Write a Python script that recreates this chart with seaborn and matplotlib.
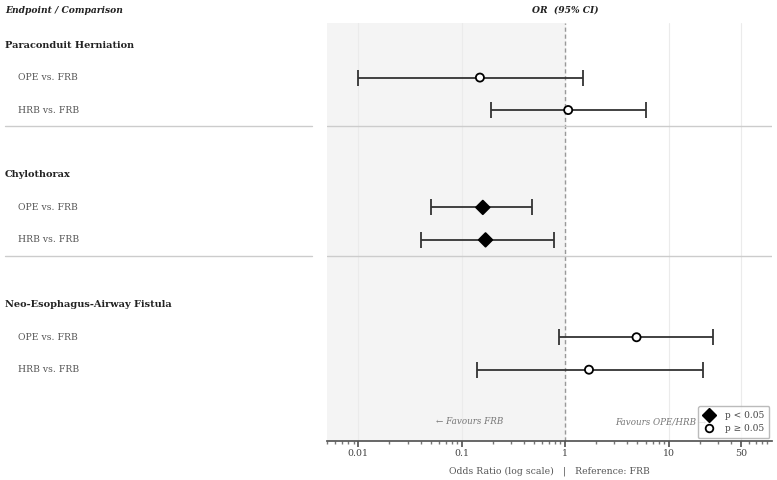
import matplotlib
matplotlib.use("Agg")
import matplotlib.pyplot as plt
from matplotlib.lines import Line2D
import seaborn as sns
import pandas as pd

endpoints = ["Paraconduit Herniation", "Chylothorax", "Neo-Esophagus-Airway Fistula"]
comparisons = ["OPE vs. FRB", "HRB vs. FRB"]
odds_ratio = [0.15, 1.07, 0.16, 0.17, 4.9, 1.7]
ci_low = [0.01, 0.19, 0.05, 0.04, 0.87, 0.14]
ci_high = [1.5, 6.1, 0.48, 0.78, 26.7, 21.4]
significant = [False, False, True, True, False, False]
tick_values = [0.01, 0.1, 1, 10, 50]
tick_labels = ["0.01", "0.1", "1", "10", "50"]

sns.set_theme(style="white")
plt.rcParams['font.family'] = ['DejaVu Serif']

rows = []
k = 0
for i, ep in enumerate(endpoints):
    for j, comp in enumerate(comparisons):
        rows.append({"endpoint": ep, "comparison": comp, "y": 4 * i + 1 + j,
                     "OR": odds_ratio[k], "lo": ci_low[k], "hi": ci_high[k],
                     "sig": "p < 0.05" if significant[k] else "p ≥ 0.05"})
        k += 1
df = pd.DataFrame(rows)

fig = plt.figure(figsize=(7.77, 4.8), dpi=100)
ax_l = fig.add_axes([0.0, 0.081, 0.41, 0.871])
ax = fig.add_axes([0.421, 0.081, 0.5726, 0.871])

ylim = (12.2, -0.68)
xlim = (0.005, 100)

# left text panel
ax_l.set_xlim(0, 1)
ax_l.set_ylim(*ylim)
ax_l.axis("off")
for i, ep in enumerate(endpoints):
    ax_l.text(0.016, 4 * i, ep, fontsize=7, fontweight="bold", color="#222222", va="center")
    if i < len(endpoints) - 1:
        ax_l.plot([0.016, 0.98], [4 * i + 2.5] * 2, color="#cccccc", lw=1)
for _, r in df.iterrows():
    ax_l.text(0.056, r["y"], r["comparison"], fontsize=6.7, color="#555555", va="center")
fig.text(0.007, 0.979, "Endpoint / Comparison", fontsize=6.6, fontweight="bold",
         fontstyle="italic", color="#222222", va="center")

# forest panel
ax.set_xscale("log")
ax.set_xlim(*xlim)
ax.set_ylim(*ylim)
ax.axvspan(xlim[0], 1, color="#f4f4f4", zorder=0)
for t in tick_values:
    if t != 1:
        ax.axvline(t, color="#ebebeb", lw=0.8, zorder=0.5)
ax.axvline(1, color="#999999", lw=1, ls=(0, (3, 2)), zorder=1)
for i in range(len(endpoints) - 1):
    ax.axhline(4 * i + 2.5, color="#cccccc", lw=1, zorder=1)

ax.errorbar(df["OR"], df["y"], xerr=[df["OR"] - df["lo"], df["hi"] - df["OR"]],
            fmt="none", ecolor="#333333", elinewidth=1.3, capsize=5.5, capthick=1.3, zorder=2)
sns.scatterplot(data=df, x="OR", y="y", style="sig", hue="sig", size="sig",
                markers={"p < 0.05": "D", "p ≥ 0.05": "o"},
                palette={"p < 0.05": "black", "p ≥ 0.05": "white"},
                sizes={"p < 0.05": 48, "p ≥ 0.05": 34},
                edgecolor="black", linewidth=1.3, legend=False, ax=ax, zorder=3)

ax.text(0.12, 11.6, "← Favours FRB", fontsize=6.3, fontstyle="italic", color="#777777",
        ha="center", va="center")
ax.text(8.3, 11.6, "Favours OPE/HRB →", fontsize=6.3, fontstyle="italic", color="#777777",
        ha="center", va="center")
ax.text(1, -1.07, "OR  (95% CI)", fontsize=6.6, fontweight="bold", fontstyle="italic",
        color="#222222", ha="center", va="center", clip_on=False)

ax.set_xticks(tick_values)
ax.set_xticklabels(tick_labels)
ax.set_yticks([])
ax.tick_params(axis="x", which="major", length=4, color="#555555", labelsize=6.8,
               labelcolor="#444444", bottom=True, pad=1.5)
ax.tick_params(axis="x", which="minor", length=2, color="#777777", bottom=True)
ax.set_xlabel("Odds Ratio (log scale)   |   Reference: FRB", fontsize=6.7, color="#555555",
              labelpad=6)
ax.set_ylabel("")
for s in ["top", "left", "right"]:
    ax.spines[s].set_visible(False)
ax.spines["bottom"].set_color("#555555")

handles = [
    Line2D([], [], marker="D", color="black", ls="none", markersize=7),
    Line2D([], [], marker="o", markerfacecolor="white", markeredgecolor="black",
           markeredgewidth=1.3, ls="none", markersize=5.5),
]
leg = ax.legend(handles, ["p < 0.05", "p ≥ 0.05"], loc="lower right", fontsize=6.5,
                frameon=True, borderaxespad=0.3, handletextpad=1.2, borderpad=0.55,
                labelspacing=0.45, handlelength=1.2)
leg.get_frame().set_edgecolor("#aaaaaa")
for t in leg.get_texts():
    t.set_color("#444444")

fig.savefig("out.png", dpi=100)
